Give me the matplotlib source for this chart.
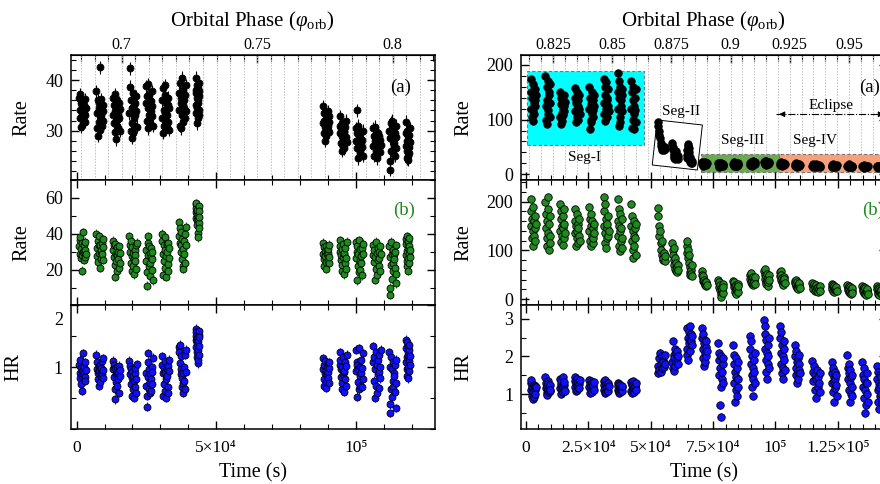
import numpy as np
import matplotlib
matplotlib.use("Agg")
import matplotlib.pyplot as plt
from matplotlib.patches import Rectangle, Polygon
from matplotlib.ticker import MultipleLocator, FuncFormatter
from matplotlib.transforms import ScaledTranslation

plt.rcParams['font.family'] = ['Liberation Serif', 'DejaVu Serif']
plt.rcParams['mathtext.fontset'] = 'custom'
plt.rcParams['mathtext.rm'] = 'Liberation Serif'
plt.rcParams['mathtext.it'] = 'Liberation Serif:italic'

# ---------------- first observation (left column) ----------------
# time span of the bins inside each satellite orbit, in ks
left_windows = [(0.9, 3.3), (7.1, 9.6), (13.0, 15.5), (18.9, 21.5), (24.8, 27.3),
                (30.6, 33.2), (36.6, 39.2), (42.6, 44.0), (88.2, 90.6), (94.2, 96.7),
                (100.0, 102.6), (106.2, 109.0), (112.0, 114.6), (118.0, 119.4)]

left_rate_a = [
    [36.5, 34.0, 37.2, 32.5, 35.5, 30.8, 34.8, 33.0, 36.0, 31.5, 34.2, 32.8, 33.5, 35.0, 31.8, 36.2, 33.0, 34.5],
    [37.8, 33.5, 30.5, 36.0, 29.0, 34.5, 31.8, 35.5, 42.6, 30.2, 36.2, 33.0, 32.5, 34.8, 31.0, 33.8, 35.0, 32.0],
    [36.5, 33.0, 31.5, 35.0, 29.8, 37.2, 33.8, 28.3, 34.5, 31.0, 36.0, 32.2, 33.2, 30.5, 35.5, 32.5, 34.2, 30.0],
    [33.5, 42.4, 38.7, 30.0, 36.0, 28.6, 34.5, 31.5, 37.5, 29.5, 35.0, 32.5, 33.0, 35.5, 31.0, 36.8, 33.8, 30.8],
    [35.5, 38.8, 32.0, 36.8, 30.5, 34.5, 39.2, 33.0, 37.0, 31.5, 36.0, 34.2, 33.8, 35.8, 32.8, 37.8, 34.8, 31.0],
    [36.0, 32.5, 29.6, 38.5, 34.0, 31.0, 37.0, 33.5, 39.0, 32.0, 35.5, 30.8, 33.0, 35.0, 31.8, 36.5, 34.5, 30.2],
    [34.0, 37.5, 31.0, 39.5, 35.5, 30.5, 36.5, 40.5, 33.0, 38.0, 31.8, 35.0, 34.5, 36.0, 32.5, 37.0, 33.8, 39.0],
    [38.0, 35.0, 40.5, 33.5, 37.5, 31.5, 39.0, 34.5, 36.5, 32.5, 38.5, 35.5, 36.0, 34.0, 37.8, 33.0, 39.5, 36.8],
    [34.8, 31.5, 33.5, 29.5, 32.0, 28.0, 30.8, 33.0, 29.0, 31.5, 30.0, 32.5, 31.0, 33.8, 30.2, 32.8, 29.8, 31.8],
    [32.8, 29.5, 31.0, 27.5, 30.5, 26.0, 29.0, 31.5, 27.0, 28.5, 30.0, 26.5, 29.8, 28.0, 30.8, 28.8, 32.0, 27.8],
    [30.5, 28.0, 34.0, 26.5, 29.5, 24.5, 31.0, 27.0, 29.0, 25.5, 28.5, 26.0, 27.5, 29.8, 26.8, 28.2, 25.0, 30.0],
    [30.5, 27.0, 29.0, 25.0, 28.0, 30.8, 26.0, 28.5, 24.5, 27.5, 29.5, 26.5, 27.8, 26.5, 29.0, 25.8, 28.2, 27.2],
    [30.0, 24.0, 22.2, 28.5, 31.5, 26.0, 29.0, 32.0, 25.5, 28.0, 30.5, 27.0, 27.5, 29.5, 25.0, 28.8, 26.5, 31.0],
    [31.8, 27.0, 29.5, 24.5, 28.0, 26.0, 30.0, 25.0, 27.5, 29.0, 24.2, 26.5, 28.0, 26.8, 29.2, 25.5, 27.8, 30.5],
]

left_rate_b = [
    [33.0, 36.5, 29.0, 38.0, 26.5, 31.5, 35.0, 28.0, 19.5, 41.0, 30.0, 25.5, 30.5, 33.5, 27.0, 35.5, 31.0, 28.5],
    [40.0, 32.0, 27.5, 36.0, 24.5, 34.0, 29.5, 38.5, 21.0, 33.5, 26.0, 30.0, 31.0, 28.5, 35.0, 25.5, 32.5, 37.0],
    [36.0, 31.0, 33.5, 27.0, 22.5, 34.5, 16.0, 29.0, 25.0, 32.5, 19.5, 28.0, 30.0, 26.0, 33.0, 21.0, 29.5, 24.0],
    [38.5, 30.0, 34.0, 24.0, 36.0, 27.5, 19.0, 32.5, 22.0, 29.5, 17.5, 26.0, 31.0, 28.0, 25.0, 33.5, 20.5, 35.0],
    [31.0, 25.0, 11.0, 18.5, 35.0, 28.0, 38.5, 22.0, 33.0, 16.5, 29.5, 24.0, 27.0, 32.0, 20.0, 26.0, 30.0, 14.0],
    [36.0, 40.0, 29.0, 17.0, 33.5, 25.0, 38.0, 21.0, 31.0, 16.0, 27.5, 34.5, 30.0, 23.0, 35.0, 19.5, 32.0, 26.5],
    [39.0, 46.5, 35.0, 43.0, 30.0, 41.0, 33.5, 26.0, 37.0, 22.0, 31.5, 20.5, 36.0, 28.5, 40.0, 24.0, 34.0, 44.0],
    [56.5, 52.0, 54.5, 49.0, 57.0, 51.0, 47.5, 53.5, 45.0, 40.5, 48.0, 38.0, 50.0, 55.5, 46.0, 52.5, 43.0, 49.5],
    [35.0, 29.0, 26.0, 32.5, 22.0, 30.5, 27.5, 24.5, 33.0, 20.5, 28.5, 31.0, 29.5, 25.0, 31.5, 23.5, 27.0, 34.0],
    [36.5, 30.0, 33.0, 25.5, 28.0, 19.0, 31.5, 22.5, 34.5, 27.0, 17.5, 29.0, 29.5, 24.0, 32.0, 20.5, 26.5, 35.5],
    [35.5, 26.5, 30.0, 14.0, 33.0, 22.0, 28.5, 18.5, 36.5, 25.0, 31.5, 20.0, 27.5, 23.5, 32.0, 17.0, 29.0, 34.5],
    [34.0, 28.0, 24.5, 31.0, 14.5, 27.0, 35.5, 20.5, 29.5, 17.0, 25.5, 32.0, 26.5, 30.0, 22.0, 33.0, 19.0, 28.5],
    [33.0, 27.0, 10.0, 6.0, 22.5, 35.5, 28.5, 15.0, 31.0, 24.0, 19.0, 29.0, 26.0, 21.0, 30.0, 17.5, 33.5, 12.5],
    [37.0, 28.0, 34.5, 22.0, 38.5, 30.5, 25.0, 35.5, 19.5, 32.0, 26.5, 36.0, 29.0, 33.0, 24.0, 37.5, 27.0, 31.0],
]

left_hr = [
    [1.04, 0.90, 1.12, 0.82, 0.98, 0.72, 0.94, 0.86, 0.62, 1.22, 0.88, 0.96, 0.92, 1.00, 0.84, 1.08, 0.78, 0.95],
    [1.20, 0.96, 1.08, 0.80, 0.90, 1.02, 0.70, 0.94, 0.76, 1.04, 0.86, 0.92, 0.98, 0.88, 1.10, 0.82, 0.95, 1.14],
    [1.10, 0.96, 1.04, 0.84, 0.64, 0.98, 0.48, 0.88, 0.76, 1.00, 0.70, 0.90, 0.92, 0.80, 1.02, 0.58, 0.86, 0.95],
    [1.10, 0.88, 1.02, 0.72, 0.96, 0.82, 0.54, 0.92, 0.64, 0.86, 0.50, 0.78, 0.90, 0.68, 0.98, 0.80, 0.58, 1.05],
    [0.90, 0.70, 0.36, 0.54, 1.22, 0.84, 1.08, 0.64, 0.96, 0.58, 0.88, 0.74, 0.80, 0.62, 1.00, 0.72, 0.92, 1.15],
    [1.04, 1.18, 0.90, 0.54, 0.98, 0.72, 1.10, 0.62, 0.92, 0.50, 0.80, 0.96, 0.86, 0.68, 1.02, 0.58, 0.94, 1.12],
    [1.32, 1.24, 1.06, 1.36, 0.96, 1.18, 0.88, 0.68, 0.82, 0.58, 0.90, 0.74, 1.00, 0.78, 1.20, 0.64, 1.28, 0.92],
    [1.62, 1.44, 1.56, 1.32, 1.50, 1.24, 1.46, 1.16, 1.38, 1.06, 1.28, 1.12, 1.42, 1.52, 1.34, 1.58, 1.20, 1.48],
    [1.14, 0.96, 0.80, 1.04, 0.70, 0.90, 1.10, 0.76, 0.94, 0.66, 0.88, 1.00, 0.92, 1.06, 0.82, 0.98, 0.74, 1.08],
    [1.24, 1.04, 1.12, 0.84, 0.96, 0.64, 1.00, 0.74, 1.16, 0.88, 0.60, 0.92, 0.94, 1.08, 0.80, 1.02, 0.70, 1.20],
    [1.28, 0.94, 1.08, 0.52, 1.04, 0.76, 0.96, 0.64, 1.30, 0.86, 1.00, 0.70, 0.90, 1.12, 0.68, 0.98, 0.80, 1.22],
    [1.34, 1.08, 0.78, 1.16, 0.50, 0.96, 1.24, 0.70, 1.04, 0.58, 0.88, 1.12, 0.92, 1.20, 0.66, 1.00, 0.82, 1.28],
    [1.24, 1.00, 0.40, 0.26, 0.64, 1.16, 0.96, 0.52, 1.08, 0.78, 0.68, 0.90, 0.86, 1.04, 0.60, 1.12, 0.74, 0.34],
    [1.44, 1.08, 1.30, 0.86, 1.40, 1.16, 0.96, 1.34, 0.82, 1.20, 1.00, 1.24, 1.10, 1.28, 0.94, 1.36, 1.04, 1.18],
]
left_err = [1.3, 2.5, 0.07]

# ---------------- second observation (right column) ----------------
right_windows = [(1.9, 3.9), (7.8, 9.8), (13.6, 15.6), (19.5, 21.5), (25.3, 27.3),
                 (31.1, 33.1), (36.7, 38.6), (42.1, 44.1), (52.8, 55.8), (58.6, 61.0),
                 (64.4, 66.6), (70.5, 72.5), (77.1, 79.1), (83.1, 85.1), (89.8, 91.8),
                 (95.5, 97.4), (101.8, 103.7), (107.8, 109.7), (114.6, 118.0), (122.5, 124.5),
                 (128.8, 130.8), (134.8, 137.0), (140.6, 142.6)]

right_rate_a = [
    [150, 120, 175, 105, 140, 98, 165, 115, 130, 110, 135, 155, 125, 145],
    [180, 125, 100, 160, 92, 135, 110, 170, 118, 145, 150, 130, 165, 105],
    [150, 105, 128, 92, 140, 112, 98, 135, 120, 108, 125, 145, 115, 132],
    [158, 115, 140, 96, 130, 105, 150, 112, 125, 100, 135, 120, 145, 110],
    [160, 120, 82, 140, 100, 128, 95, 150, 110, 118, 135, 105, 145, 125],
    [175, 130, 110, 160, 98, 145, 120, 168, 105, 135, 140, 155, 125, 115],
    [185, 150, 120, 170, 88, 140, 105, 160, 95, 125, 135, 155, 115, 145],
    [170, 120, 150, 85, 135, 100, 160, 82, 125, 110, 140, 118, 155, 95],
    [95, 88, 80, 72, 66, 58, 52, 48, 45, 50, 47, 44, 49, 46],
    [58, 50, 44, 38, 34, 30, 28, 36, 42, 32, 30, 35, 28, 33],
    [30, 36, 44, 52, 56, 48, 40, 32, 26, 22, 20, 24, 21, 25],
    [22, 18, 20, 16, 21, 17, 19, 23, 18, 20, 19, 21, 17, 20],
    [20, 16, 19, 14, 21, 17, 18, 15, 20, 17, 18, 16, 19, 17],
    [19, 22, 16, 20, 17, 21, 15, 19, 18, 16, 18, 20, 17, 19],
    [21, 17, 20, 23, 18, 22, 16, 19, 24, 20, 19, 21, 18, 22],
    [22, 19, 24, 18, 21, 25, 17, 20, 23, 19, 21, 18, 22, 20],
    [20, 17, 22, 18, 19, 16, 21, 18, 17, 19, 18, 20, 17, 19],
    [18, 15, 19, 16, 20, 17, 14, 18, 16, 17, 16, 18, 15, 17],
    [16, 14, 18, 15, 17, 13, 16, 19, 14, 15, 15, 17, 14, 16],
    [17, 14, 16, 18, 13, 15, 17, 14, 16, 15, 15, 16, 14, 17],
    [15, 17, 13, 16, 14, 18, 15, 13, 16, 14, 15, 14, 16, 15],
    [16, 13, 15, 17, 14, 12, 16, 15, 13, 14, 14, 15, 13, 16],
    [15, 13, 16, 14, 12, 15, 13, 14, 16, 13, 14, 15, 13, 14],
]

right_rate_b = [
    [205, 150, 180, 125, 165, 110, 190, 140, 160, 130, 145, 170, 120, 155],
    [200, 145, 175, 108, 160, 125, 210, 135, 185, 100, 155, 130, 170, 115],
    [195, 140, 165, 118, 180, 130, 150, 112, 170, 145, 155, 125, 185, 135],
    [185, 135, 160, 110, 150, 125, 175, 140, 115, 155, 145, 130, 165, 120],
    [190, 140, 120, 165, 108, 150, 175, 130, 160, 115, 145, 125, 155, 135],
    [210, 150, 180, 115, 195, 135, 105, 165, 145, 125, 155, 130, 170, 140],
    [205, 160, 130, 185, 110, 150, 98, 175, 140, 120, 145, 125, 165, 105],
    [195, 150, 120, 170, 85, 140, 100, 160, 130, 110, 145, 125, 155, 90],
    [188, 170, 150, 130, 140, 115, 100, 120, 90, 80, 85, 95, 78, 88],
    [115, 100, 90, 105, 80, 70, 85, 62, 75, 58, 65, 55, 70, 60],
    [110, 95, 120, 85, 100, 75, 90, 65, 55, 50, 60, 52, 70, 48],
    [58, 50, 44, 38, 48, 34, 40, 30, 36, 28, 32, 26, 35, 29],
    [40, 32, 25, 36, 18, 28, 10, 22, 5, 15, 20, 30, 12, 25],
    [38, 30, 24, 34, 15, 26, 20, 10, 28, 18, 22, 30, 14, 26],
    [50, 42, 36, 54, 30, 44, 38, 28, 46, 33, 40, 35, 45, 30],
    [58, 50, 42, 62, 35, 47, 30, 52, 38, 26, 44, 36, 50, 40],
    [55, 48, 58, 40, 50, 35, 44, 30, 38, 28, 45, 36, 42, 32],
    [38, 32, 26, 40, 30, 22, 35, 28, 24, 20, 30, 26, 33, 22],
    [32, 26, 20, 30, 16, 24, 28, 18, 22, 14, 25, 20, 27, 17],
    [30, 24, 20, 28, 16, 22, 26, 14, 18, 21, 22, 19, 25, 16],
    [28, 22, 18, 26, 14, 20, 24, 12, 17, 10, 20, 16, 22, 13],
    [27, 21, 16, 25, 12, 19, 23, 10, 15, 8, 18, 14, 20, 11],
    [26, 20, 15, 23, 11, 18, 21, 9, 14, 17, 18, 13, 19, 10],
]

right_hr = [
    [1.30, 1.10, 1.38, 0.95, 1.20, 0.88, 1.15, 1.05, 1.25, 0.92, 1.12, 1.22, 1.00, 1.18],
    [1.45, 1.15, 1.30, 1.02, 1.22, 0.98, 1.35, 1.10, 1.28, 1.05, 1.20, 1.08, 1.25, 1.12],
    [1.40, 1.15, 1.28, 1.00, 1.35, 1.10, 1.22, 1.05, 1.45, 1.18, 1.25, 1.12, 1.32, 1.08],
    [1.45, 1.20, 1.35, 1.08, 1.30, 1.12, 1.40, 1.25, 1.15, 1.32, 1.22, 1.28, 1.15, 1.38],
    [1.38, 1.18, 1.28, 1.02, 1.35, 1.10, 1.22, 1.05, 1.30, 1.15, 1.20, 1.25, 1.12, 1.32],
    [1.35, 1.12, 1.25, 1.02, 1.38, 1.15, 1.28, 1.05, 1.20, 1.10, 1.18, 1.30, 1.08, 1.22],
    [1.30, 1.10, 1.22, 1.02, 1.28, 1.08, 1.18, 1.05, 1.25, 1.12, 1.15, 1.20, 1.08, 1.22],
    [1.32, 1.08, 1.25, 1.02, 1.35, 1.12, 1.20, 1.05, 1.28, 1.15, 1.18, 1.22, 1.10, 1.30],
    [1.75, 1.55, 1.95, 1.65, 2.10, 1.80, 1.60, 2.00, 1.70, 1.90, 1.85, 1.72, 2.05, 1.80],
    [1.85, 2.40, 1.70, 2.05, 1.62, 1.95, 2.20, 1.75, 2.10, 1.88, 1.95, 2.15, 1.80, 2.00],
    [2.20, 2.75, 2.05, 2.50, 1.90, 2.65, 2.35, 2.80, 2.15, 2.45, 2.40, 2.60, 2.30, 2.55],
    [2.75, 2.50, 2.20, 2.60, 1.95, 2.35, 1.75, 2.10, 2.45, 1.85, 2.25, 2.00, 2.40, 2.15],
    [2.35, 1.90, 1.50, 2.10, 0.70, 1.70, 1.20, 2.00, 0.40, 1.40, 1.60, 1.80, 1.30, 1.95],
    [2.30, 1.80, 2.05, 1.30, 1.60, 0.80, 1.95, 1.10, 1.45, 0.95, 1.70, 1.40, 1.85, 1.20],
    [2.55, 2.20, 1.80, 2.40, 1.50, 2.00, 1.20, 1.70, 0.95, 1.40, 1.90, 1.60, 2.10, 1.30],
    [2.98, 2.60, 2.20, 2.80, 1.90, 2.45, 1.60, 2.10, 1.40, 1.80, 2.30, 2.00, 2.50, 1.70],
    [2.80, 2.50, 2.10, 2.65, 1.80, 2.30, 1.55, 2.00, 1.40, 1.70, 2.20, 1.90, 2.40, 1.65],
    [2.30, 2.00, 1.70, 2.15, 1.50, 1.85, 1.30, 1.95, 1.60, 1.40, 1.80, 1.65, 2.05, 1.55],
    [1.88, 1.60, 1.35, 1.75, 1.10, 1.50, 0.90, 1.40, 1.65, 1.20, 1.45, 1.30, 1.55, 1.05],
    [1.85, 1.55, 1.30, 1.70, 1.05, 1.45, 0.80, 1.35, 1.60, 1.15, 1.40, 1.25, 1.50, 0.95],
    [2.05, 1.70, 1.40, 1.80, 1.10, 1.55, 0.80, 1.30, 1.65, 1.00, 1.45, 1.20, 1.50, 0.95],
    [1.85, 1.50, 1.20, 1.70, 0.90, 1.40, 0.50, 1.10, 0.70, 1.30, 1.30, 1.00, 1.55, 0.80],
    [1.75, 1.40, 1.10, 1.60, 0.80, 1.30, 0.60, 1.20, 1.50, 0.95, 1.25, 1.00, 1.45, 0.75],
]
right_err = [5.0, 6.0, 0.09]

# segment boxes on the second light curve: (t0 ks, t1 ks, rate0, rate1)
seg1_box = (0.5, 47.3, 53.6, 189.4)
seg2_corners = [(52.6, 99.3), (70.7, 90.1), (68.7, 7.9), (50.6, 17.0)]
seg3_box = (70.0, 101.5, 4.8, 36.6)
seg4_box = (101.5, 150.0, 5.0, 36.6)
eclipse_span = (100.3, 144.6, 109.7)

# orbital ephemeris used for the top axes: phase = phi0 + t / P
left_phi0, left_period = 0.6834, 971.4e3
right_phi0, right_period = 0.8136, 949.0e3


def stack(windows, values):
    t, v = [], []
    for (t0, t1), vals in zip(windows, values):
        t.extend(np.linspace(t0, t1, len(vals)) * 1e3)
        v.extend(vals)
    return np.array(t), np.array(v)


def add_phase_axis(ax, phi0, period, major, grid_range):
    t2p = lambda t: phi0 + t / period
    p2t = lambda p: (p - phi0) * period
    sec = ax.secondary_xaxis('top', functions=(t2p, p2t))
    sec.set_xticks(major)
    sec.xaxis.set_minor_locator(MultipleLocator(0.005))
    sec.xaxis.set_major_formatter(FuncFormatter(lambda v, pos: '%g' % v))
    sec.tick_params(which='both', direction='in', labelsize=11.5, pad=1.5)
    sec.tick_params(which='major', length=6, width=1)
    sec.tick_params(which='minor', length=4, width=0.8)
    sec.set_xlabel(r'Orbital Phase ($\varphi_{\mathrm{orb}}$)', fontsize=15, labelpad=8)
    for ph in np.arange(grid_range[0], grid_range[1], 0.005):
        ax.axvline(p2t(round(ph, 3)), color='#c0c0c0', lw=0.7, ls=(0, (1.5, 1.5)), zorder=0.5)


def style(ax, xmaj, xmin, ymaj, ymin, top=True):
    ax.xaxis.set_major_locator(MultipleLocator(xmaj))
    ax.xaxis.set_minor_locator(MultipleLocator(xmin))
    ax.yaxis.set_major_locator(MultipleLocator(ymaj))
    ax.yaxis.set_minor_locator(MultipleLocator(ymin))
    ax.tick_params(which='both', direction='in', right=True, top=top, labelsize=13)
    ax.tick_params(axis='y', pad=5.5)
    ax.tick_params(which='major', length=6, width=1)
    ax.tick_params(which='minor', length=3.5, width=0.8)
    for s in ax.spines.values():
        s.set_linewidth(1.1)


def draw(ax, t, v, err, face, ecol, ms):
    ax.errorbar(t, v, yerr=err, fmt='o', ms=ms, mfc=face, mec='black', mew=0.6,
                ecolor=ecol, elinewidth=0.8, capsize=0, zorder=3)


def plot_light_curves():
    fig = plt.figure(figsize=(8.8, 4.84), dpi=100)
    green = '#1f8a1f'
    blue = '#1010ff'

    cols = [
        dict(left=0.0803, width=0.414, windows=left_windows, data=[left_rate_a, left_rate_b, left_hr],
             err=left_err, xlim=(-2150, 128400), ylims=[(20.2, 45), (0.3, 70), (0, 2)],
             ytick=[(10, 2), (20, 10), (1, 0.5)], xtick=(5e4, 1e4), ms=5.0,
             phi0=left_phi0, period=left_period, major=[0.7, 0.75, 0.8], grid=(0.68, 0.815),
             xt=[0, 5e4, 1e5], xtl=['0', '5×10⁴', '10⁵'],
             lab_x=[-0.107, -0.107, -0.131], tag_x=0.905),
        dict(left=0.5917, width=0.4163, windows=right_windows, data=[right_rate_a, right_rate_b, right_hr],
             err=right_err, xlim=(-2100, 144700), ylims=[(-10.4, 218), (-12.3, 244.6), (0.07, 3.37)],
             ytick=[(100, 20), (100, 20), (1, 0.5)], xtick=(2.5e4, 5e3), ms=5.4,
             phi0=right_phi0, period=right_period, major=[0.825, 0.85, 0.875, 0.9, 0.925, 0.95],
             grid=(0.81, 0.97),
             xt=[0, 2.5e4, 5e4, 7.5e4, 1e5, 1.25e5],
             xtl=['0', '2.5×10⁴', '5×10⁴', '7.5×10⁴', '10⁵', '1.25×10⁵'],
             lab_x=[-0.130, -0.130, -0.130], tag_x=0.952),
    ]
    rows = [(0.6281, 0.2583), (0.3698, 0.2583), (0.1136, 0.2562)]
    faces = ['black', green, blue]
    ecols = ['black', green, blue]
    ylabels = ['Rate', 'Rate', 'HR']

    for c in cols:
        axes = []
        for i, (y0, h) in enumerate(rows):
            ax = fig.add_axes([c['left'], y0, c['width'], h])
            t, v = stack(c['windows'], c['data'][i])
            draw(ax, t, v, c['err'][i], faces[i], ecols[i], c['ms'])
            ax.set_xlim(*c['xlim'])
            ax.set_ylim(*c['ylims'][i])
            style(ax, c['xtick'][0], c['xtick'][1], c['ytick'][i][0], c['ytick'][i][1], top=(i > 0))
            ax.set_ylabel(ylabels[i], fontsize=14.5)
            ax.yaxis.set_label_coords(c['lab_x'][i], 0.5)
            if i < 2:
                ax.tick_params(labelbottom=False)
            axes.append(ax)

        add_phase_axis(axes[0], c['phi0'], c['period'], c['major'], c['grid'])
        axes[0].text(c['tag_x'], 0.745, '(a)', transform=axes[0].transAxes, fontsize=13.5,
                     ha='center', va='center')
        axes[1].text(c['tag_x'] + 0.01, 0.755, '(b)', transform=axes[1].transAxes, fontsize=13.5,
                     ha='center', va='center', color=green)

        bot = axes[2]
        bot.set_xticks(c['xt'])
        bot.set_xticklabels(c['xtl'])
        bot.tick_params(axis='x', labelsize=12.5, pad=8)
        bot.set_xlabel('Time (s)', fontsize=14.5, labelpad=5)
        c['axes'] = axes

    # left HR panel: the "2" label sits just below the top frame
    hr = cols[0]['axes'][2]
    hr.set_yticks([1, 2])
    ticks = hr.yaxis.get_major_ticks()
    lab = ticks[1].label1
    lab.set_transform(lab.get_transform() + ScaledTranslation(0, -0.13, fig.dpi_scale_trans))

    # segments on the second light curve
    ax = cols[1]['axes'][0]
    for (t0, t1, r0, r1), col in [(seg1_box, '#00ffff'), (seg3_box, '#6aaa50'), (seg4_box, '#f7a17a')]:
        ax.add_patch(Rectangle((t0 * 1e3, r0), (t1 - t0) * 1e3, r1 - r0, facecolor=col,
                               edgecolor='#777777', lw=0.8, ls=(0, (3, 2)), zorder=1))
    ax.add_patch(Polygon([(t * 1e3, r) for t, r in seg2_corners], closed=True, facecolor='white',
                         edgecolor='black', lw=0.7, zorder=1))
    ax.text(23.6e3, 31, 'Seg-I', fontsize=11, ha='center', va='center', zorder=4)
    ax.text(62.1e3, 114.4, 'Seg-II', fontsize=11, ha='center', va='center', zorder=4)
    ax.text(86.9e3, 60.9, 'Seg-III', fontsize=11, ha='center', va='center', zorder=4)
    ax.text(115.8e3, 60.9, 'Seg-IV', fontsize=11, ha='center', va='center', zorder=4)

    e0, e1, ey = eclipse_span
    ax.plot([e0 * 1e3, e1 * 1e3], [ey, ey], color='black', lw=0.8, ls='-.', zorder=4)
    ax.annotate('', xy=(e0 * 1e3, ey), xytext=(e0 * 1e3 + 4e3, ey),
                arrowprops=dict(arrowstyle='-|>', color='black', lw=0.8, mutation_scale=8), zorder=4)
    ax.annotate('', xy=(e1 * 1e3, ey), xytext=(e1 * 1e3 - 4e3, ey),
                arrowprops=dict(arrowstyle='-|>', color='black', lw=0.8, mutation_scale=8), zorder=4)
    ax.text((e0 + e1) / 2 * 1e3, 124.9, 'Eclipse', fontsize=11, ha='center', va='center', zorder=4)

    fig.savefig('out.png', dpi=100)


if __name__ == "__main__":
    plot_light_curves()
